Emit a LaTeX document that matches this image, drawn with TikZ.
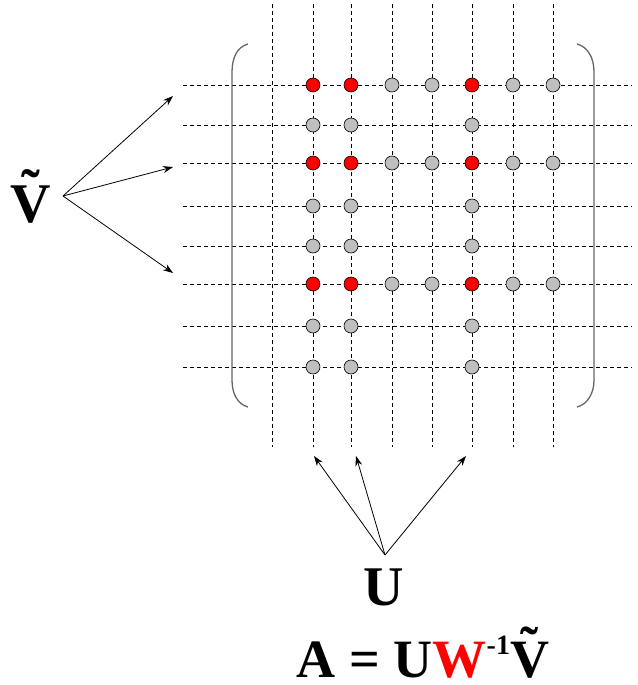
\documentclass[tikz,border=0pt]{standalone}
\usepackage{fontspec}
\setmainfont{Liberation Serif}
\usetikzlibrary{arrows.meta}
\newcommand{\tildeV}{\ooalign{V\cr\hidewidth\raisebox{0.24em}{\symbol{"02DC}}\hidewidth\cr}}
\begin{document}
\begin{tikzpicture}[x=1pt,y=-1pt,
  gridline/.style={dash pattern=on 4pt off 3pt, line width=0.8pt},
  dot/.style={circle, draw=black, line width=0.6pt, minimum size=14pt, inner sep=0pt},
  reddot/.style={dot, fill=red},
  graydot/.style={dot, fill=black!25},
  bracket/.style={draw=black!60, line width=1.3pt},
  arr/.style={-{Stealth[length=10pt,width=7pt]}, line width=0.8pt},
  biglabel/.style={font=\fontsize{56}{60}\selectfont\bfseries, inner sep=0pt}]
\useasboundingbox (0,0) rectangle (637,685);
% grid
\foreach \x in {272,313,351,392,432,472,513,553}
  \draw[gridline] (\x,4) -- (\x,447);
\foreach \y in {85,125,163,206,246,284,326,367}
  \draw[gridline] (183,\y) -- (632,\y);
% brackets
\draw[bracket] (248,44) .. controls (237,47) and (232,58) .. (232,72) -- (232,380) .. controls (232,393) and (237,404) .. (248,407);
\draw[bracket] (577,44) .. controls (588,47) and (594,58) .. (594,72) -- (594,380) .. controls (594,393) and (588,404) .. (577,407);
% dots
\foreach \y in {85,163,284}{
  \foreach \x in {392,432,513,553}
    \node[graydot] (g-\x-\y) at (\x,\y) {};
  \foreach \x in {313,351,472}
    \node[reddot] (r-\x-\y) at (\x,\y) {};
}
\foreach \y in {125,206,246,326,367}
  \foreach \x in {313,351,472}
    \node[graydot] (g-\x-\y) at (\x,\y) {};
% labels
\node[biglabel, anchor=base] (Vt) at (31,222) {\tildeV};
\node[biglabel, anchor=base] (U) at (384,605) {U};
\node[font=\fontsize{54}{58}\selectfont\bfseries, inner sep=0pt, anchor=base] (eq) at (423,677)
  {A = U\textcolor{red}{W}\raisebox{0.42em}{\fontsize{28}{28}\selectfont\bfseries -1}\tildeV};
% arrow endpoints
\coordinate (vsrc) at (63,196);
\coordinate (vt1) at (173,96);
\coordinate (vt2) at (173,167);
\coordinate (vt3) at (173,273);
\coordinate (usrc) at (385,555);
\coordinate (ut1) at (314,456);
\coordinate (ut2) at (356,456);
\coordinate (ut3) at (466,456);
\foreach \t in {vt1,vt2,vt3} \draw[arr] (vsrc) -- (\t);
\foreach \t in {ut1,ut2,ut3} \draw[arr] (usrc) -- (\t);
\end{tikzpicture}
\end{document}
